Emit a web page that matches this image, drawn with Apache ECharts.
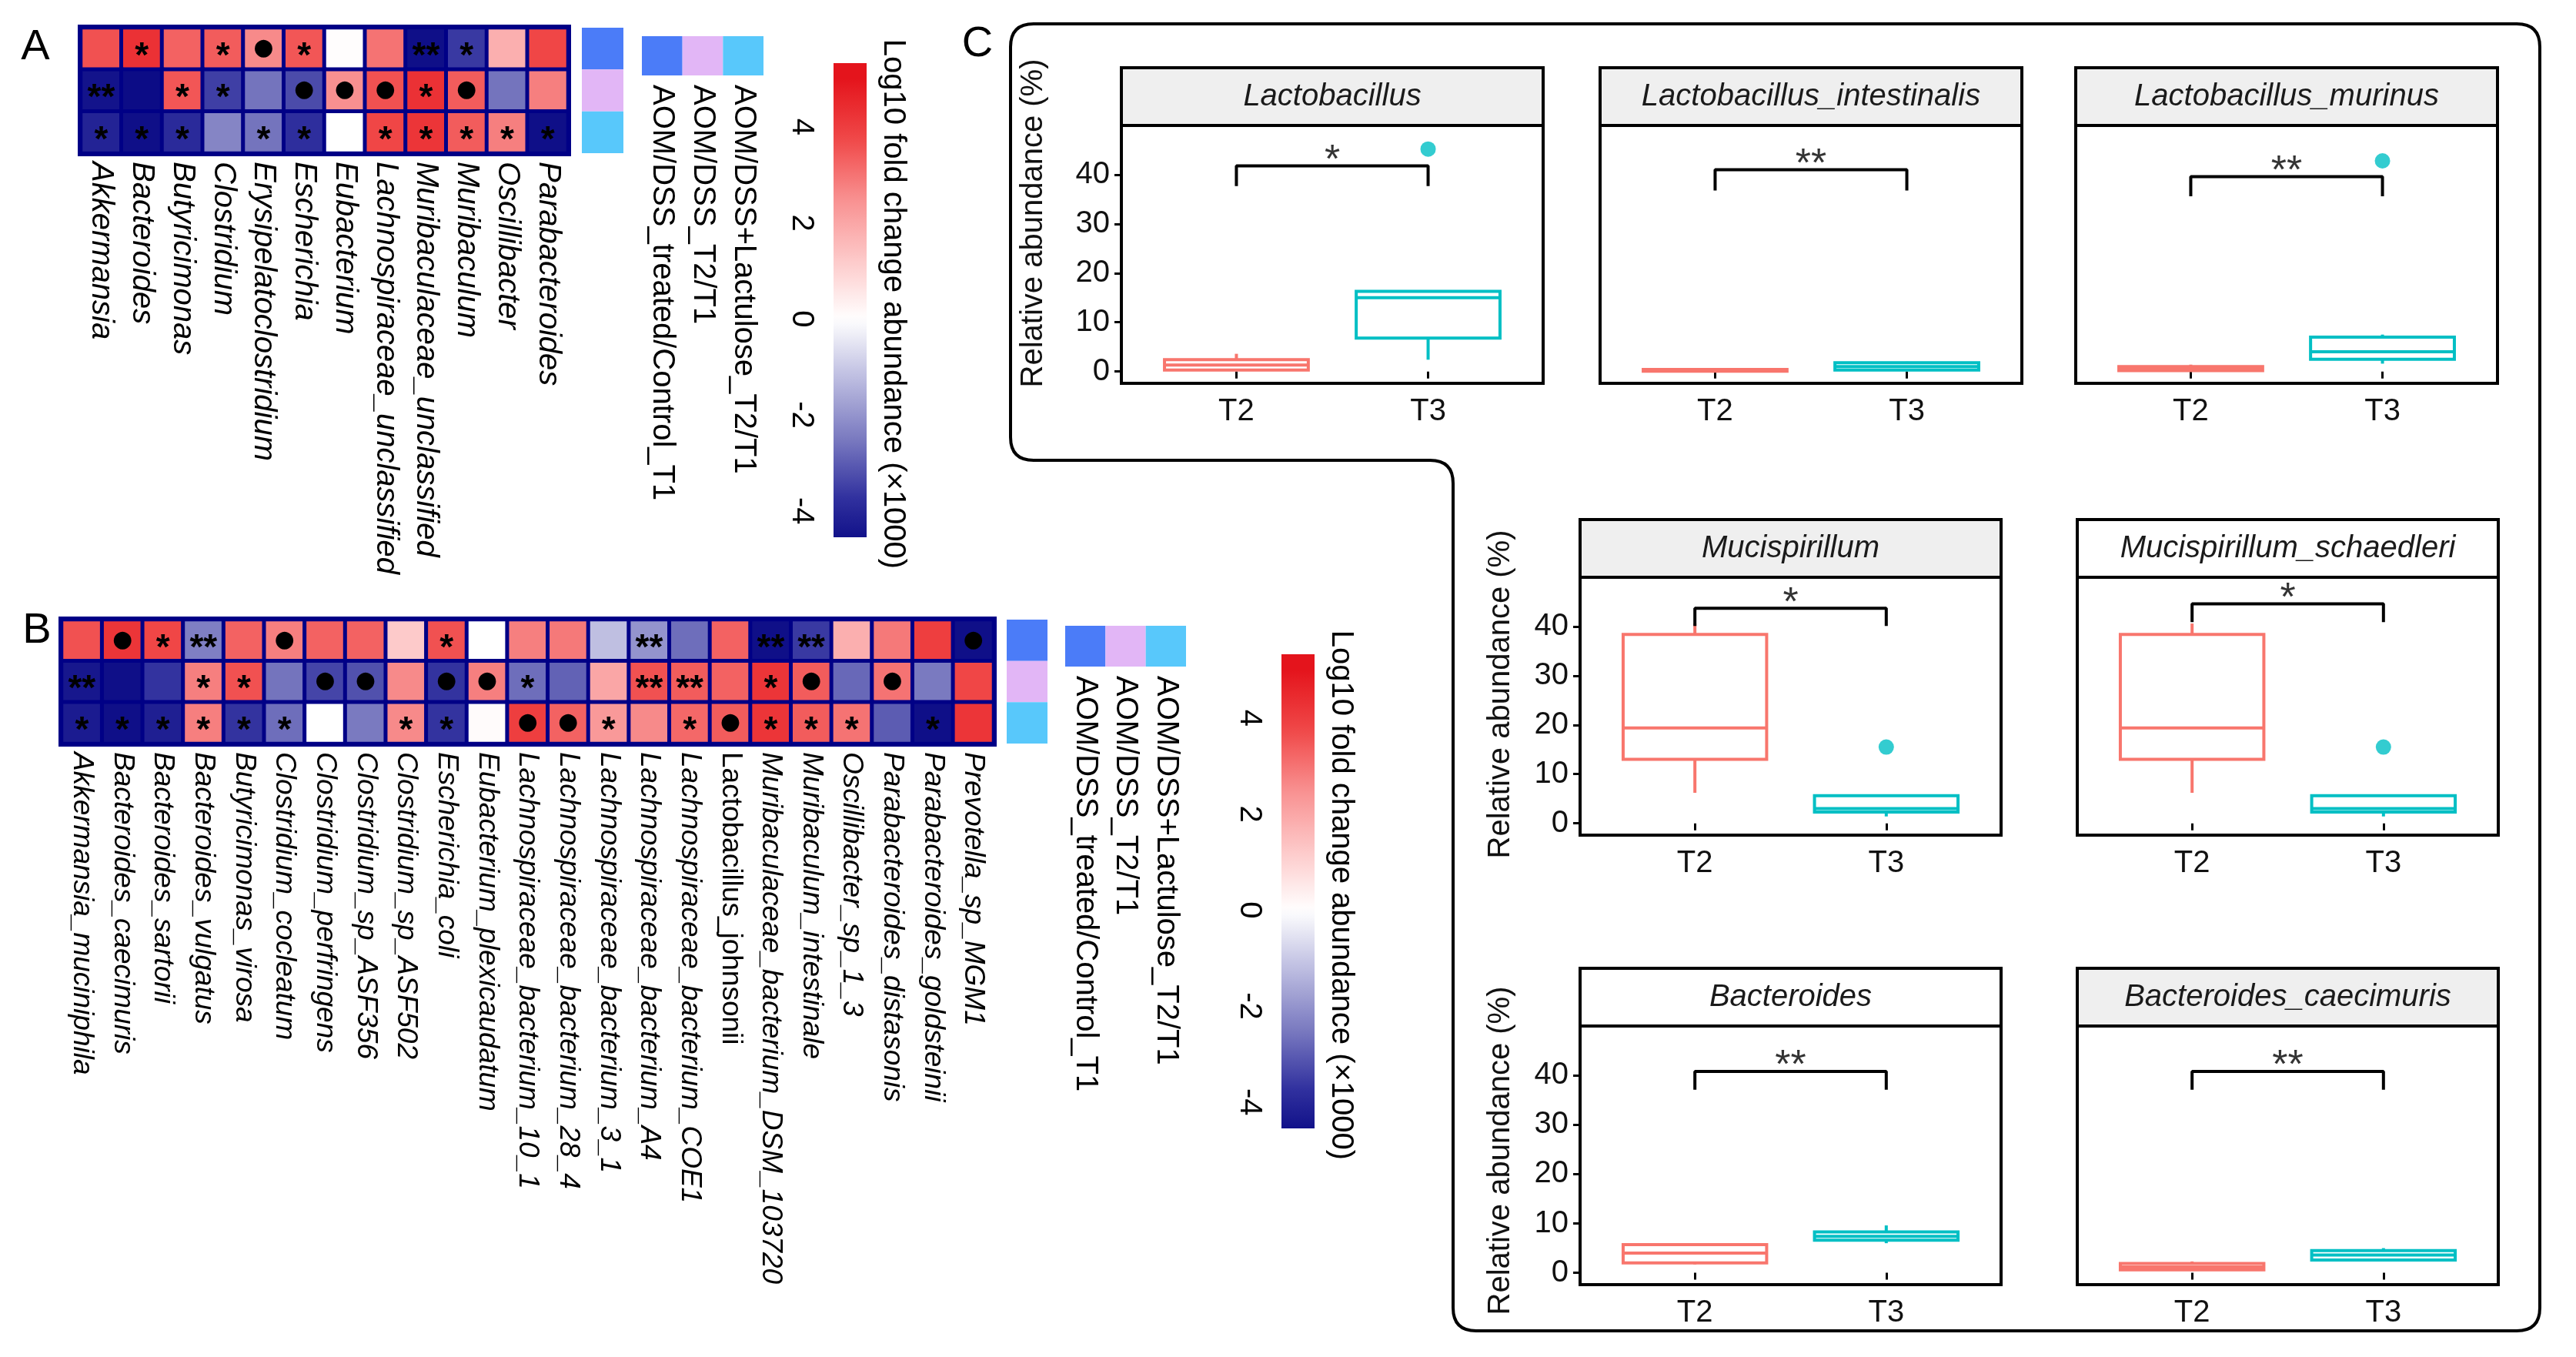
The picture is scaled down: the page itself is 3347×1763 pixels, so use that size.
<!DOCTYPE html>
<html><head><meta charset="utf-8">
<script src="https://cdn.jsdelivr.net/npm/echarts@6/dist/echarts.min.js"></script>
<style>html,body{margin:0;padding:0;background:#fff}#c{width:3347px;height:1763px}</style>
</head><body><div id="c"></div>
<script>
// ---------------- DATA ----------------
const groups = ['AOM/DSS+Lactulose_T2/T1','AOM/DSS_T2/T1','AOM/DSS_treated/Control_T1'];
const legendLabels = ['AOM/DSS_treated/Control_T1','AOM/DSS_T2/T1','AOM/DSS+Lactulose_T2/T1'];

const genusA = ['Akkermansia','Bacteroides','Butyricimonas','Clostridium','Erysipelatoclostridium','Escherichia','Eubacterium','Lachnospiraceae_unclassified','Muribaculaceae_unclassified','Muribaculum','Oscillibacter','Parabacteroides'];
const lfcA_lactulose = [3.6,4.3,3.3,3.4,2.6,3.5,0.05,3.0,-4.6,-3.6,1.8,3.8];
const lfcA_aomdss    = [-4.5,-4.7,3.5,-3.5,-2.6,-3.3,2.5,3.6,4.3,3.4,-2.6,2.8];
const lfcA_control   = [-4.1,-4.6,-3.9,-2.3,-2.6,-3.8,0,3.8,4.2,3.4,2.8,-4.6];
const sigA_lactulose = ['','*','','*','●','*','','','**','*','',''];
const sigA_aomdss    = ['**','','*','*','','●','●','●','*','●','',''];
const sigA_control   = ['*','*','*','','*','*','','*','*','*','*','*'];

const speciesB = ['Akkermansia_muciniphila','Bacteroides_caecimuris','Bacteroides_sartorii','Bacteroides_vulgatus','Butyricimonas_virosa','Clostridium_cocleatum','Clostridium_perfringens','Clostridium_sp_ASF356','Clostridium_sp_ASF502','Escherichia_coli','Eubacterium_plexicaudatum','Lachnospiraceae_bacterium_10_1','Lachnospiraceae_bacterium_28_4','Lachnospiraceae_bacterium_3_1','Lachnospiraceae_bacterium_A4','Lachnospiraceae_bacterium_COE1','Lactobacillus_johnsonii','Muribaculaceae_bacterium_DSM_103720','Muribaculum_intestinale','Oscillibacter_sp_1_3','Parabacteroides_distasonis','Parabacteroides_goldsteinii','Prevotella_sp_MGM1'];
const lfcB_lactulose = [3.6,4.2,3.8,-2.4,3.3,2.8,3.3,3.3,1.2,3.6,0,2.8,2.9,-1.2,-2.0,-2.7,3.3,-4.6,-3.6,1.8,2.9,4.0,-4.6];
const lfcB_aomdss    = [-4.4,-4.6,-3.7,2.8,3.6,-2.6,-3.4,-3.2,2.6,-3.7,2.8,-2.7,-2.9,2.0,3.6,3.4,3.3,4.2,3.4,-2.8,3.0,-2.5,3.8];
const lfcB_control   = [-4.3,-4.6,-4.2,2.8,-3.7,-2.7,0,-2.5,2.6,-3.7,0.1,4.0,3.3,2.3,2.6,3.2,3.4,4.2,3.4,3.0,-3.0,-4.6,4.2];
const sigB_lactulose = ['','●','*','**','','●','','','','*','','','','','**','','','**','**','','','','●'];
const sigB_aomdss    = ['**','','','*','*','','●','●','','●','●','*','','','**','**','','*','●','','●','',''];
const sigB_control   = ['*','*','*','*','*','*','','','*','*','','●','●','*','','*','●','*','*','*','','*',''];
const uprightB = ['Lactobacillus_johnsonii'];

const colorbarRange = [-4.55, 5.33];
const colorbarTicks = [-4,-2,0,2,4];
const colorbarTitle = 'Log10 fold change abundance (×1000)';

const taxaC = ['Lactobacillus','Lactobacillus_intestinalis','Lactobacillus_murinus','Mucispirillum','Mucispirillum_schaedleri','Bacteroides','Bacteroides_caecimuris'];
const timeC = ['T2','T3'];
// [min, Q1, median, Q3, max] relative abundance (%)
const boxT2 = [[0.1,0.3,1.3,2.4,3.6],[0,0.05,0.15,0.4,0.6],[0.1,0.2,0.5,1.0,1.4],[6.2,13.0,19.4,38.4,40.6],[6.2,13.0,19.4,38.4,40.6],[1.7,2.0,4.0,5.7,5.9],[0.5,0.6,1.2,1.9,2.3]];
const boxT3 = [[2.4,6.8,15.0,16.3,16.5],[0.2,0.3,1.0,1.8,2.0],[1.6,2.5,4.0,7.0,7.5],[1.4,2.3,3.0,5.6,5.8],[1.4,2.3,3.0,5.6,5.8],[6.0,6.6,7.4,8.3,9.6],[2.4,2.6,3.6,4.5,5.0]];
const outlierT3 = [[45.2],[],[42.8],[15.5],[15.5],[],[]];
const sigC = ['*','**','**','*','*','**','**'];
const bracketTop = [41.8,41.0,39.6,43.7,44.6,40.8,40.8];
const bracketFoot = [37.7,36.8,35.6,40.1,40.9,37.1,37.1];
const yTicksC = [0,10,20,30,40];
const yRangeC = [-2.4, 50];

// ---------------- STYLE / LAYOUT ----------------
const FONT = "'Liberation Sans', Arial, Helvetica, sans-serif";
const NAVY = '#000086';
const SCALE = ['#00007e','#30309e','#7a7ac0','#bcbce0','#ffffff','#fdc8c8','#f89090','#f04848','#e4141c'];
const GROUP_COL = ['#4b7cf8','#e2b6f6','#58c8fb'];
const LEGEND_COL = ['#4b7cf8','#e2b6f6','#58c8fb'];
const T2C = '#F8766D', T3C = '#00BFC4';
const stripBg = ['#efefef','#efefef','#efefef','#efefef','#ffffff','#ffffff','#efefef'];

function hex2rgb(h){return [parseInt(h.slice(1,3),16),parseInt(h.slice(3,5),16),parseInt(h.slice(5,7),16)];}
function colorAt(v){
  let t = (v+5)/10; t = Math.max(0,Math.min(1,t));
  const f = t*(SCALE.length-1); const i = Math.min(SCALE.length-2, Math.floor(f)); const r = f-i;
  const a = hex2rgb(SCALE[i]), b = hex2rgb(SCALE[i+1]);
  return 'rgb('+a.map((x,j)=>Math.round(x+(b[j]-x)*r)).join(',')+')';
}

const grids=[], xAxes=[], yAxes=[], series=[], graphics=[];
function addGrid(g, xa, ya){ grids.push(g); const i=grids.length-1; xa.gridIndex=i; ya.gridIndex=i; xAxes.push(xa); yAxes.push(ya); return i; }

function heatData(rows, sigs){
  const out=[];
  rows.forEach((row,r)=>row.forEach((v,c)=>{
    const m = sigs[r][c];
    const star = m.indexOf('*')===0;
    out.push({value:[c,r,v], label:{show:!!m, formatter:m||' ', offset:[0, star?11:0], fontSize: star?46:30, fontWeight: star?'bold':'normal', fontFamily: star?FONT:"'DejaVu Sans', sans-serif"}});
  }));
  return out;
}

function heatPanel(box, names, rows, sigs, fs, upright){
  const gi = addGrid({left:box.x, top:box.y, width:box.w, height:box.h, show:true, borderColor:NAVY, borderWidth:8, backgroundColor:NAVY},
    {type:'category', data:names, axisLine:{show:false}, axisTick:{show:false}, splitLine:{show:false},
     axisLabel:{rotate:-90, interval:0, margin:11, formatter:v=>(upright.indexOf(v)>=0?'{n|':'{i|')+v+'}',
       rich:{i:{fontStyle:'italic', fontSize:fs, fontFamily:FONT, color:'#000'}, n:{fontSize:fs, fontFamily:FONT, color:'#000'}}}},
    {type:'category', data:[0,1,2], inverse:true, show:false});
  series.push({type:'heatmap', xAxisIndex:gi, yAxisIndex:gi, data:heatData(rows,sigs),
    itemStyle:{borderColor:NAVY, borderWidth:5}, label:{show:true, color:'#000'}, emphasis:{disabled:true}});
  return series.length-1;
}

function annoPanel(box){
  const gi = addGrid({left:box.x, top:box.y, width:box.w, height:box.h},
    {type:'category', data:[''], show:false}, {type:'category', data:groups, inverse:true, show:false});
  series.push({type:'custom', xAxisIndex:gi, yAxisIndex:gi, data:groups.map((g,i)=>[0,i]),
    renderItem:(p,api)=>{const c=api.coord([0,api.value(1)]); const s=api.size([1,1]);
      return {type:'rect', shape:{x:c[0]-s[0]/2, y:c[1]-s[1]/2, width:s[0], height:s[1]}, style:{fill:GROUP_COL[p.dataIndex]}};}});
}

function legendPanel(box){
  const gi = addGrid({left:box.x, top:box.y, width:box.w, height:box.h},
    {type:'category', data:legendLabels, axisLine:{show:false}, axisTick:{show:false},
     axisLabel:{rotate:-90, interval:0, margin:12, fontSize:40, fontFamily:FONT, color:'#000'}},
    {type:'category', data:[''], show:false});
  series.push({type:'custom', xAxisIndex:gi, yAxisIndex:gi, data:legendLabels.map((g,i)=>[i,0]),
    renderItem:(p,api)=>{const c=api.coord([api.value(0),0]); const s=api.size([1,1]);
      return {type:'rect', shape:{x:c[0]-s[0]/2, y:c[1]-s[1]/2, width:s[0], height:s[1]}, style:{fill:LEGEND_COL[p.dataIndex]}};}});
}

function colorbar(box, title, tx, ty){
  const gi = addGrid({left:box.x, top:box.y, width:box.w, height:box.h},
    {type:'value', min:0, max:1, show:false},
    {type:'value', min:colorbarRange[0], max:colorbarRange[1], axisLine:{show:false}, axisTick:{show:false}, splitLine:{show:false},
     axisLabel:{customValues:colorbarTicks, rotate:-90, margin:22, fontSize:40, fontFamily:FONT, color:'#000'}});
  const stops=[]; const N=60;
  for(let i=0;i<=N;i++){ const v = colorbarRange[1] - (colorbarRange[1]-colorbarRange[0])*i/N; stops.push({offset:i/N, color:colorAt(v)}); }
  series.push({type:'custom', xAxisIndex:gi, yAxisIndex:gi, data:[[0,colorbarRange[0],colorbarRange[1]]],
    renderItem:(p,api)=>{const a=api.coord([0,api.value(2)]); const b=api.coord([1,api.value(1)]);
      return {type:'rect', shape:{x:a[0], y:a[1], width:b[0]-a[0], height:b[1]-a[1]}, style:{fill:new echarts.graphic.LinearGradient(0,0,0,1,stops)}};}});
  graphics.push({type:'text', x:tx, y:ty, rotation:-Math.PI/2, style:{text:title, font:'40px '+FONT, fill:'#000', align:'center', verticalAlign:'middle'}});
}

// Panel A
const hA = heatPanel({x:105,y:36,w:633,h:163}, genusA, [lfcA_lactulose,lfcA_aomdss,lfcA_control], [sigA_lactulose,sigA_aomdss,sigA_control], 40, []);
annoPanel({x:756,y:36,w:54,h:163});
legendPanel({x:834,y:47,w:158,h:51});
colorbar({x:1083,y:82,w:43,h:616}, colorbarTitle, 1160, 395);
// Panel B
const hB = heatPanel({x:80,y:805,w:1211,h:161}, speciesB, [lfcB_lactulose,lfcB_aomdss,lfcB_control], [sigB_lactulose,sigB_aomdss,sigB_control], 37, uprightB);
annoPanel({x:1308,y:805,w:53,h:161});
legendPanel({x:1384,y:813,w:157,h:53});
colorbar({x:1665,y:850,w:43,h:616}, colorbarTitle, 1742, 1163);

// Panel C facets
const facetBoxes = [
 {x:1457,y:163,w:548,h:335},{x:2079,y:163,w:548,h:335},{x:2697,y:163,w:548,h:335},
 {x:2053,y:750,w:547,h:335},{x:2699,y:750,w:547,h:335},
 {x:2053,y:1333,w:547,h:336},{x:2699,y:1333,w:547,h:336}];
const yNamePos = {0:[1343,290],3:[1950,902],5:[1950,1495]};
const STRIP_H = 75;
const axisTxt = {fontSize:40, fontFamily:FONT, color:'#111'};

taxaC.forEach((name,k)=>{
  const b = facetBoxes[k];
  const firstCol = !!yNamePos[k];
  addGrid({left:b.x, top:b.y-STRIP_H, width:b.w, height:STRIP_H, show:true, backgroundColor:stripBg[k], borderColor:'#000', borderWidth:4},
    {type:'value', show:false}, {type:'value', show:false});
  graphics.push({type:'text', x:b.x+b.w/2, y:b.y-STRIP_H/2, style:{text:name, font:'italic 40px '+FONT, fill:'#1a1a1a', align:'center', verticalAlign:'middle'}});
  const gi = addGrid({left:b.x, top:b.y, width:b.w, height:b.h, show:true, borderColor:'#000', borderWidth:4, backgroundColor:'#fff'},
    {type:'value', min:0.4, max:2.6, splitLine:{show:false}, axisLine:{show:false},
     axisTick:{show:true, customValues:[1,2], length:9, lineStyle:{color:'#000', width:3}},
     axisLabel:Object.assign({customValues:[1,2], margin:17, formatter:v=>timeC[Math.round(v)-1]}, axisTxt)},
    {type:'value', min:yRangeC[0], max:yRangeC[1], splitLine:{show:false}, axisLine:{show:false},
     axisTick:{show:firstCol, customValues:yTicksC, length:9, lineStyle:{color:'#000', width:3}},
     axisLabel:Object.assign({show:firstCol, customValues:yTicksC, margin:15}, axisTxt)});
  series.push({type:'custom', xAxisIndex:gi, yAxisIndex:gi, data:[[1].concat(boxT2[k]), [2].concat(boxT3[k])],
    renderItem:(p,api)=>{
      const x=api.value(0); const col = x===1?T2C:T3C;
      const xl=api.coord([x-0.375,0])[0], xr=api.coord([x+0.375,0])[0], xc=api.coord([x,0])[0];
      const y=[1,2,3,4,5].map(d=>api.coord([x,api.value(d)])[1]);
      const st={stroke:col, lineWidth:4, fill:null};
      return {type:'group', children:[
        {type:'line', shape:{x1:xc,y1:y[0],x2:xc,y2:y[1]}, style:st},
        {type:'line', shape:{x1:xc,y1:y[3],x2:xc,y2:y[4]}, style:st},
        {type:'rect', shape:{x:xl,y:y[3],width:xr-xl,height:y[1]-y[3]}, style:{stroke:col,lineWidth:4,fill:'#fff'}},
        {type:'line', shape:{x1:xl,y1:y[2],x2:xr,y2:y[2]}, style:st}]};
    }});
  if(outlierT3[k].length) series.push({type:'scatter', xAxisIndex:gi, yAxisIndex:gi, data:outlierT3[k].map(v=>[2,v]), symbolSize:20, itemStyle:{color:T3C}});
  series.push({type:'line', xAxisIndex:gi, yAxisIndex:gi, data:[[1,bracketFoot[k]],[1,bracketTop[k]],[2,bracketTop[k]],[2,bracketFoot[k]]], symbol:'none', lineStyle:{color:'#000', width:4}});
  series.push({type:'scatter', xAxisIndex:gi, yAxisIndex:gi, data:[[1.5,bracketTop[k]]], symbolSize:1, itemStyle:{color:'rgba(0,0,0,0)'},
    label:{show:true, position:'inside', offset:[0,-6], formatter:sigC[k], fontSize:52, fontFamily:FONT, color:'#000'}});
  if(firstCol) graphics.push({type:'text', x:yNamePos[k][0], y:yNamePos[k][1], rotation:Math.PI/2, style:{text:'Relative abundance (%)', font:'40px '+FONT, fill:'#111', align:'center', verticalAlign:'middle'}});
});

// Panel letters
graphics.push({type:'text', x:46, y:62, style:{text:'A', font:'56px '+FONT, fill:'#000', align:'center', verticalAlign:'middle'}});
graphics.push({type:'text', x:48, y:820, style:{text:'B', font:'56px '+FONT, fill:'#000', align:'center', verticalAlign:'middle'}});
graphics.push({type:'text', x:1270, y:58, style:{text:'C', font:'56px '+FONT, fill:'#000', align:'center', verticalAlign:'middle'}});
// Frame around panel C (decoration)
series.push({type:'custom', coordinateSystem:'none', silent:true, z:-1, data:[[0]], renderItem:()=>{
  const L=1313,T=31,R=3300,B=1729,SX=1888,SY=598,r=30;
  const d = `M${L+r},${T} L${R-r},${T} Q${R},${T} ${R},${T+r} L${R},${B-r} Q${R},${B} ${R-r},${B} L${SX+r},${B} Q${SX},${B} ${SX},${B-r} L${SX},${SY+r} Q${SX},${SY} ${SX-r},${SY} L${L+r},${SY} Q${L},${SY} ${L},${SY-r} L${L},${T+r} Q${L},${T} ${L+r},${T} Z`;
  return {type:'path', shape:{pathData:d}, style:{stroke:'#000', lineWidth:4, fill:null}};
}});

const chart = echarts.init(document.getElementById('c'), null, {width:3347, height:1763});
chart.setOption({
  animation:false, backgroundColor:'#fff', textStyle:{fontFamily:FONT},
  grid:grids, xAxis:xAxes, yAxis:yAxes,
  visualMap:[{type:'continuous', show:false, min:-5, max:5, dimension:2, seriesIndex:[hA,hB], inRange:{color:SCALE}}],
  series:series, graphic:{elements:graphics}
});
</script></body></html>
